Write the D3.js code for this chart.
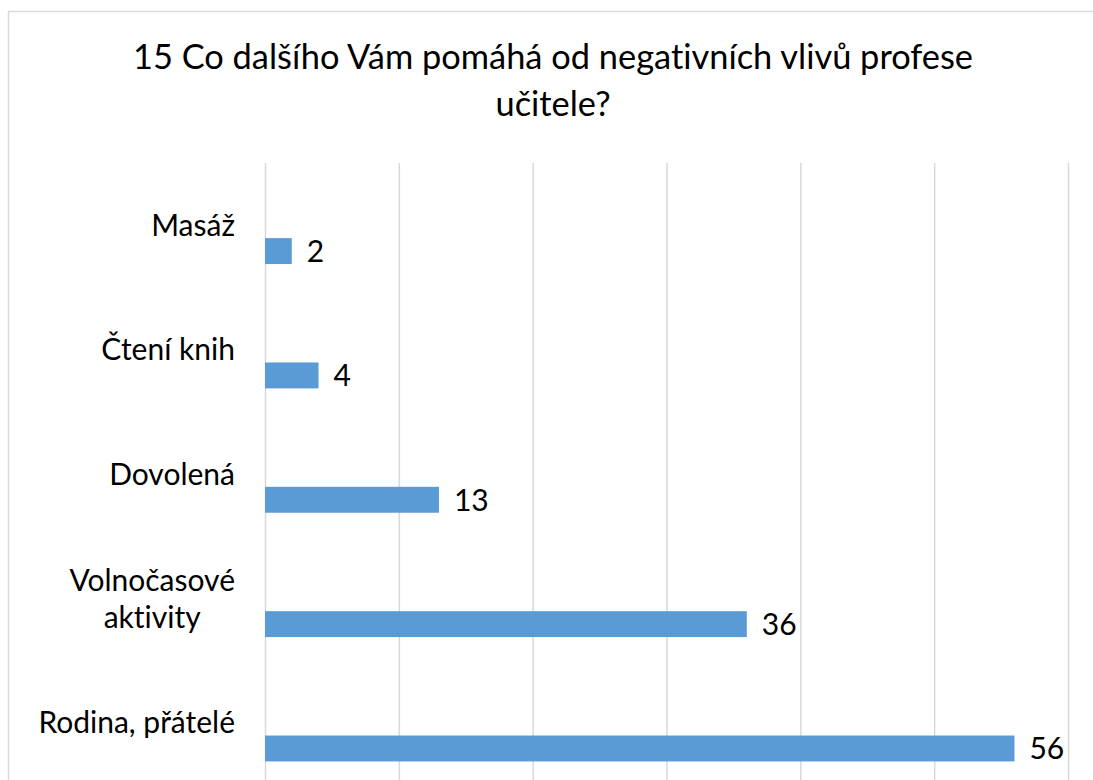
<!DOCTYPE html>
<html>
<head>
<meta charset="utf-8" />
<title>15 Co dalšího Vám pomáhá</title>
<style>
  body { margin: 0; background: #fff; }
  svg text { font-family: Lato, "Open Sans", sans-serif; fill: #000; font-variant-ligatures: none; }
</style>
</head>
<body>
<svg id="chart" width="1093" height="780"></svg>
<script src="https://d3js.org/d3.v7.min.js"></script>
<script>
// data
var titleLines = ["15 Co dalšího Vám pomáhá od negativních vlivů profese", "učitele?"];
var categories = [["Masáž"], ["Čtení knih"], ["Dovolená"], ["Volnočasové", "aktivity"], ["Rodina, přátelé"]];
var values = [2, 4, 13, 36, 56];
var xTicks = [0, 10, 20, 30, 40, 50, 60];
var slots = ["a", "b", "c"]; // Excel cluster slots, only the last one holds a bar

var W = 1093, H = 780;
var svg = d3.select("#chart");

// chart frame (only left and top edges visible)
svg.append("path")
  .attr("d", "M8.5," + H + "V11.5H" + W)
  .attr("fill", "none")
  .attr("stroke", "#d9d9d9")
  .attr("stroke-width", 1.5);

// title
svg.append("g").selectAll("text")
  .data(titleLines)
  .enter().append("text")
  .attr("x", 553)
  .attr("y", function(d, i) { return 69 + i * 47; })
  .attr("text-anchor", "middle")
  .attr("font-size", 34.4)
  .text(function(d) { return d; });

var x = d3.scaleLinear()
  .domain([0, 60])
  .range([265, 1068]);

var y = d3.scaleBand()
  .domain(d3.range(categories.length))
  .range([163, 163 + 5 * 124.35]);

var sub = d3.scaleBand()
  .domain(slots)
  .range([0, y.bandwidth()])
  .paddingOuter(0.9);

// gridlines
svg.append("g")
  .attr("transform", "translate(0,163)")
  .call(d3.axisBottom(x).tickValues(xTicks).tickSize(H - 163).tickFormat(""))
  .call(function(g) {
    g.select(".domain").remove();
    g.selectAll(".tick line").attr("stroke", "#d9d9d9").attr("stroke-width", 1.5);
  });

// bars
svg.append("g").selectAll("rect")
  .data(values)
  .enter().append("rect")
  .attr("x", x(0))
  .attr("y", function(d, i) { return y(i) + sub("c"); })
  .attr("width", function(d) { return x(d) - x(0); })
  .attr("height", sub.bandwidth())
  .attr("fill", "#5b9bd5");

// value labels
svg.append("g").selectAll("text")
  .data(values)
  .enter().append("text")
  .attr("x", function(d) { return x(d) + 15; })
  .attr("y", function(d, i) { return y(i) + sub("c") + sub.bandwidth() / 2; })
  .attr("dy", "0.36em")
  .attr("font-size", 30)
  .text(function(d) { return d; });

// category labels: block right-aligned at 235, lines centred on each other
var lab = svg.append("g").selectAll("text")
  .data(categories)
  .enter().append("text")
  .attr("text-anchor", "middle")
  .attr("font-size", 30);

lab.selectAll("tspan")
  .data(function(d) { return d; })
  .enter().append("tspan")
  .attr("x", 0)
  .attr("y", function(d, i) { return i * 37; })
  .attr("dy", "0.36em")
  .text(function(d) { return d; });

lab.attr("transform", function(d, i) {
  var w = this.getBBox().width;
  var c = y(i) + y.bandwidth() / 2;
  return "translate(" + (235 - w / 2) + "," + (c - (d.length - 1) * 37 / 2) + ")";
});
</script>
</body>
</html>
